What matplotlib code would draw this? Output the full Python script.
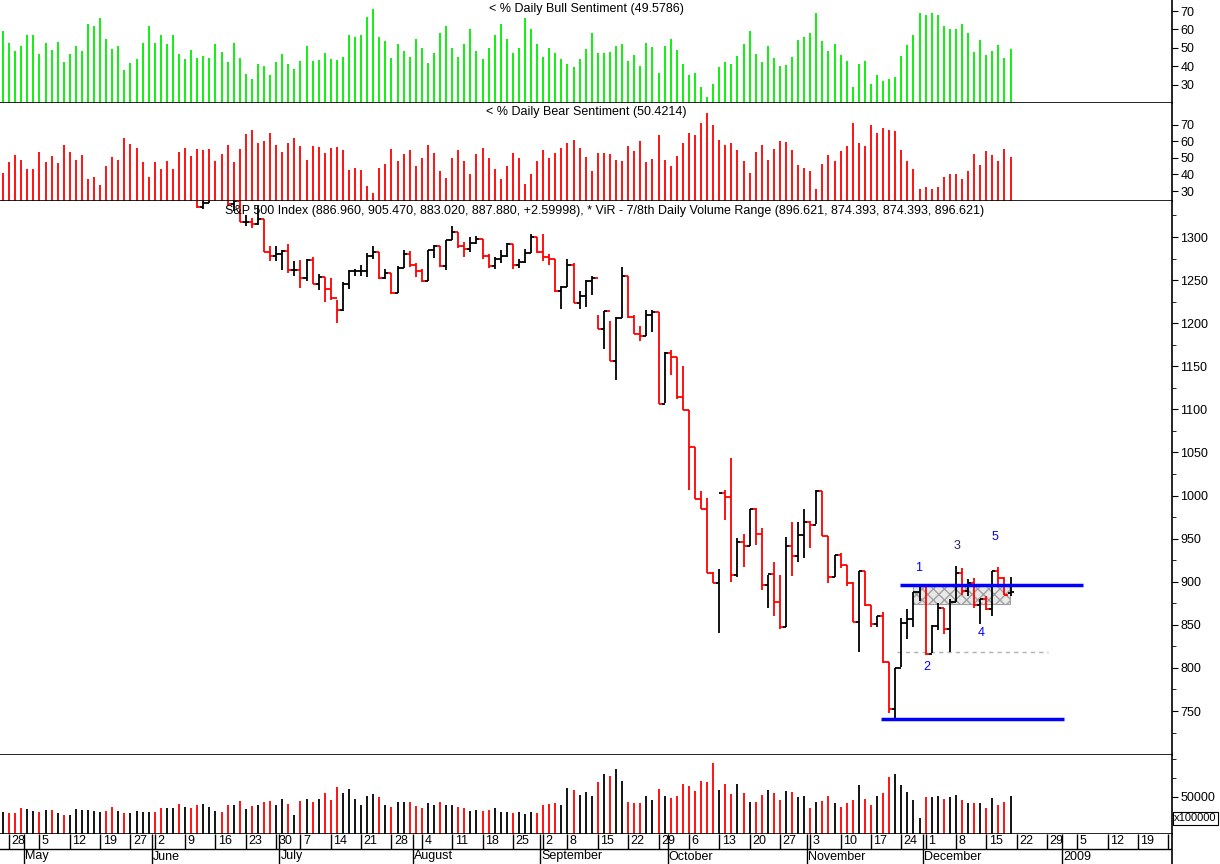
import matplotlib
matplotlib.use("Agg")
import matplotlib.pyplot as plt
import pandas as pd
import numpy as np

plt.rcParams['font.family'] = ['Liberation Sans', 'DejaVu Sans']

opens = [1388,1397,1397,1391,
 1386,1409,1414,1407,1418,1392,1397,1388,1403,1403,1408,1423,1425,1426,1413,1391,1394,1375,1385,1390,1399,
 1400,1385,1377,1377,1404,1361,1361,1358,1335,1339,1360,1360,1350,1338,1342,1318,1318,1315,1321,1283,1278,
 1280,1284,1262,1262,1253,1273,1245,1254,1240,1229,1215,1245,1260,1261,1261,1278,1283,1252,1258,1235,1264,1280,
 1267,1260,1249,1285,1290,1266,1296,1306,1290,1286,1293,1298,1278,1266,1275,1278,1292,1267,1271,1282,1300,
 1283,1277,1275,1237,1242,1267,1224,1232,1249,1252,1193,1214,1156,1206,1255,1207,1188,1185,1209,1213,1106,
 1166,1161,1114,1099,1056,996,985,910,899,1003,998,908,946,941,985,956,896,909,876,848,941,930,954,
 969,966,1005,953,905,931,919,899,853,912,873,851,860,807,752,800,852,857,888,
 896,816,849,870,845,876,910,889,899,873,880,868,913,904,886.96]
highs = [1399,1405,1402,1404,
 1410,1416,1415,1422,1418,1404,1398,1404,1408,1411,1424,1428,1440,1426,1414,1397,1394,1391,1406,1405,1406,
 1400,1391,1388,1405,1404,1370,1367,1358,1345,1361,1370,1362,1352,1347,1342,1326,1322,1336,1321,1290,1290,
 1285,1292,1272,1273,1274,1277,1257,1254,1253,1227,1248,1262,1263,1267,1281,1290,1283,1263,1258,1266,1285,1284,
 1270,1263,1285,1291,1290,1297,1313,1306,1294,1300,1301,1298,1280,1277,1285,1293,1292,1275,1286,1303,1300,
 1303,1280,1275,1243,1274,1270,1237,1250,1255,1210,1214,1203,1207,1265,1255,1210,1197,1215,1215,1213,1167,
 1169,1161,1150,1099,1056,1005,997,911,915,1006,1044,951,955,985,986,962,908,923,908,952,969,969,984,
 971,1007,1005,953,931,933,920,900,913,913,873,860,865,807,800,858,868,888,897,
 896,850,875,870,880,918,916,903,904,880,884,913,917,905,905.47]
lows = [1380,1388,1386,1379,
 1386,1404,1402,1407,1392,1389,1386,1385,1396,1398,1406,1415,1419,1410,1387,1378,1373,1373,1382,1388,1396,
 1375,1371,1373,1377,1359,1351,1352,1334,1333,1339,1357,1349,1336,1330,1318,1313,1311,1314,1283,1272,1272,
 1262,1258,1255,1241,1249,1245,1239,1225,1227,1200,1214,1240,1255,1255,1254,1275,1251,1251,1234,1235,1264,1265,
 1254,1248,1249,1276,1265,1262,1296,1287,1277,1283,1292,1274,1264,1263,1270,1277,1263,1264,1270,1282,1281,
 1272,1267,1236,1217,1242,1224,1217,1219,1233,1193,1170,1156,1134,1206,1206,1187,1179,1185,1190,1106,1107,
 1140,1112,1099,1007,996,984,910,899,840,972,900,906,917,941,943,890,870,860,845,848,907,923,927,
 939,967,953,899,906,916,895,853,818,872,848,847,806,748,741,801,834,847,878,
 815,817,844,839,818,876,885,883,869,851,867,860,895,885,883.02]
closes = [1398,1396,1391,1386,
 1409,1414,1407,1418,1392,1397,1388,1403,1403,1408,1423,1425,1426,1413,1391,1394,1375,1385,1390,1399,1400,
 1385,1377,1377,1404,1361,1361,1358,1335,1339,1360,1360,1350,1338,1342,1318,1318,1315,1321,1283,1278,1280,
 1284,1262,1262,1253,1273,1245,1254,1240,1229,1215,1245,1260,1261,1261,1278,1283,1252,1258,1235,1264,1280,1267,
 1260,1249,1285,1290,1266,1296,1306,1290,1286,1293,1298,1278,1266,1275,1278,1292,1267,1271,1282,1300,1283,
 1277,1275,1237,1242,1267,1224,1232,1249,1252,1193,1214,1156,1206,1255,1207,1188,1185,1209,1213,1106,1166,
 1161,1114,1099,1056,996,985,910,899,1003,998,908,946,941,985,956,896,909,876,848,941,930,954,969,
 966,1005,953,905,931,919,899,853,912,873,851,860,807,752,800,852,857,888,896,
 816,849,870,845,876,910,889,899,873,880,868,913,904,885,887.88]

volumes = [29700,28400,28400,35100,33800,31100,29700,32400,32400,28400,25700,25700,33800,32400,32400,31100,29700,31100,36500,31100,
 28400,28400,31100,29700,29700,29700,35100,35100,35100,40500,36500,35100,39200,40500,36500,31100,29700,39200,39200,44600,
 33800,37800,39200,43200,44600,39200,47300,40500,25700,44600,47300,43200,47300,55400,45900,63500,55400,60800,47300,39200,
 51300,54000,50000,39200,36500,43200,43200,43200,37800,35100,41900,39200,43200,39200,39200,36500,35100,31100,32400,31100,
 32400,35100,29700,29700,28400,29700,
 27000,29700,28400,39200,40500,41900,39200,62100,59400,52700,56700,51300,70200,81000,78400,87800,71600,43200,41900,41900,
 51300,45900,60800,51300,48600,51300,67500,64800,58100,71600,70200,95900,59400,67500,54000,67500,55400,43200,43200,52700,
 59400,55400,45900,58100,56700,50000,51300,35100,43200,44600,51300,41900,36500,41900,45900,66200,47300,39200,51300,55400,
 77000,81000,66200,56700,45900,21600,50000,50000,51300,47300,50000,52700,45900,41900,41900,41900,35100,48600,39200,43200,51300]

bull = [59.4,52.8,48.3,51.1,56.7,56.7,46.7,52.8,48.9,53.3,42.2,46.7,51.1,48.3,62.8,61.7,66.1,55.0,49.4,51.1,
 37.8,41.7,43.9,52.8,61.7,52.8,56.7,52.2,56.7,46.7,43.9,48.9,44.4,45.5,44.4,52.2,47.8,42.2,52.8,44.4,
 35.5,33.3,41.1,40.0,35.0,42.2,46.7,41.1,38.3,42.8,51.1,42.8,43.3,47.2,43.9,43.3,45.0,57.2,56.1,57.2,
 66.7,71.1,56.1,53.9,44.4,
 52,48,45,55,50,42,47,58,62,50,45,52,60,48,44,50,57,63,55,47,50,66,60,52,45,50,
 47.4,43.9,41.1,39.4,43.9,49.4,57.8,47.2,47.2,47.8,51.1,52.2,42.8,46.1,40.0,52.8,50.5,36.1,51.1,55.0,
 48.9,41.1,35.0,36.1,28.9,23.3,30.5,39.4,42.2,41.1,45.5,52.2,59.4,46.7,42.2,51.1,44.4,40.0,40.5,45.0,
 54.4,56.1,57.8,68.9,53.9,48.3,52.2,46.1,42.8,28.9,41.1,42.8,30.5,35.0,32.2,33.3,33.9,45.5,51.7,56.7,
 68.9,67.8,68.9,67.8,61.7,60.0,60.0,62.8,57.8,47.8,54.4,46.1,48.3,51.7,44.4,49.58]
bear = [round(100 - b, 2) for b in bull]

holidays = ['2008-05-26', '2008-07-04', '2008-09-01', '2008-11-27']
dates = [d for d in pd.bdate_range('2008-04-25', '2008-12-19') if d.strftime('%Y-%m-%d') not in holidays]
future = list(pd.bdate_range('2008-12-22', '2009-01-30'))
alld = dates + future
n = len(closes)
xs = np.arange(n)

W, H = 1220, 864
fig = plt.figure(figsize=(12.2, 8.64), dpi=100)
def ax_at(top, bot, left=0, right=1172):
    return fig.add_axes([left / W, 1 - bot / H, (right - left) / W, (bot - top) / H])

XL = (-0.5, 192.6)
ax1 = ax_at(0, 103)
ax2 = ax_at(103, 201)
ax3 = ax_at(201, 755)
ax4 = ax_at(755, 834)
axd = ax_at(834, 864)

for a in (ax1, ax2, ax3, ax4, axd):
    a.set_xlim(*XL)
    a.set_facecolor('white')
    for s in ('left', 'top'):
        a.spines[s].set_visible(False)
    a.spines['right'].set_color('black')
    a.spines['bottom'].set_color('black')
    a.spines['right'].set_linewidth(1.2)
    a.spines['bottom'].set_linewidth(1.2)
    a.yaxis.tick_right()
    a.set_xticks([])
    a.tick_params(axis='y', labelsize=9, length=4, direction='out', pad=2)

ax1.vlines(xs, 20, bull, colors='#00ee00', lw=1.3)
ax1.set_ylim(20, 76)
ax1.set_yticks([30, 40, 50, 60, 70])
ax1.text(0.5, 0.97, '< % Daily Bull Sentiment (49.5786)', transform=ax1.transAxes, ha='center', va='top', fontsize=9)

ax2.vlines(xs, 24, bear, colors='#ff0000', lw=1.3)
ax2.set_ylim(24, 83)
ax2.set_yticks([30, 40, 50, 60, 70])
ax2.text(0.5, 0.97, '< % Daily Bear Sentiment (50.4214)', transform=ax2.transAxes, ha='center', va='top', fontsize=9)

cols = ['#ff0000' if c < o else 'black' for o, c in zip(opens, closes)]
ax3.vlines(xs, lows, highs, colors=cols, lw=1.3)
ax3.hlines(opens, xs - 0.5, xs, colors=cols, lw=1.3)
ax3.hlines(closes, xs, xs + 0.5, colors=cols, lw=1.3)
ax3.set_ylim(699, 1341.8)
ax3.set_yticks(np.arange(750, 1301, 50))
ax3.set_yticks(np.arange(725, 1341, 25), minor=True)
ax3.tick_params(axis='y', which='minor', length=3)
ax3.text(225 / 1172, 1 - 4 / 554, 'S&P 500 Index (886.960, 905.470, 883.020, 887.880, +2.59998), * ViR - 7/8th Daily Volume Range (896.621, 874.393, 874.393, 896.621)',
         transform=ax3.transAxes, ha='left', va='top', fontsize=9)

ax3.add_patch(plt.Rectangle((150, 874.393), 15.9, 896.621 - 874.393, facecolor='#e8e8e8', edgecolor='#a0a0a0', hatch='xxx', lw=0.8, zorder=1))
ax3.hlines(896.621, 147.8, 177.9, colors='#0000ff', lw=2.5, zorder=3)
ax3.hlines(741, 144.6, 174.8, colors='#0000ff', lw=2.5, zorder=3)
ax3.hlines(818, 147.3, 172.2, colors='#b0b0b0', lw=1, linestyles=(0, (3, 3)), zorder=1)
for lab, xi, yv in [('1', 150.9, 916), ('2', 152.2, 800.6), ('3', 157.2, 941.4), ('4', 161.1, 840.9), ('5', 163.4, 952)]:
    ax3.text(xi, yv, lab, color='#0000ff' if lab != '3' else '#202060', fontsize=9, ha='center', va='center')

ax4.vlines(xs, 0, volumes, colors=cols, lw=1.3)
ax4.set_ylim(0, 106000)
ax4.set_yticks([50000])
ax4.set_yticklabels(['50000'])
ax4.set_yticks([25000, 75000, 100000], minor=True)
ax4.tick_params(axis='y', which='minor', length=3)
ax4.text(1.002, 0.2, 'x100000', transform=ax4.transAxes, fontsize=8, ha='left', va='center',
         bbox=dict(facecolor='white', edgecolor='black', pad=1, lw=0.8), clip_on=False)

axd.set_ylim(0, 1)
axd.set_yticks([])
axd.spines['bottom'].set_visible(False)
axd.axhline(0.5, color='black', lw=1)
prev_week = dates[0].isocalendar()[1]
prev_month = None
months = {5: 'May', 6: 'June', 7: 'July', 8: 'August', 9: 'September', 10: 'October', 11: 'November', 12: 'December'}
for i, d in enumerate(alld):
    if i > XL[1]:
        break
    wk = d.isocalendar()[1]
    if wk != prev_week:
        axd.vlines(i, 0.5, 1, colors='black', lw=1)
        axd.text(i + 0.4, 0.75, str(d.day), fontsize=9, ha='left', va='center', clip_on=True)
    if d.month != prev_month and prev_month is not None:
        axd.vlines(i - 0.5, 0, 1, colors='black', lw=1)
        lab = '2009' if d.year == 2009 else months[d.month]
        axd.text(i - 0.3, 0.25, lab, fontsize=9, ha='left', va='center')
    prev_week = wk
    prev_month = d.month

fig.savefig('out.png', dpi=100, facecolor='white')
